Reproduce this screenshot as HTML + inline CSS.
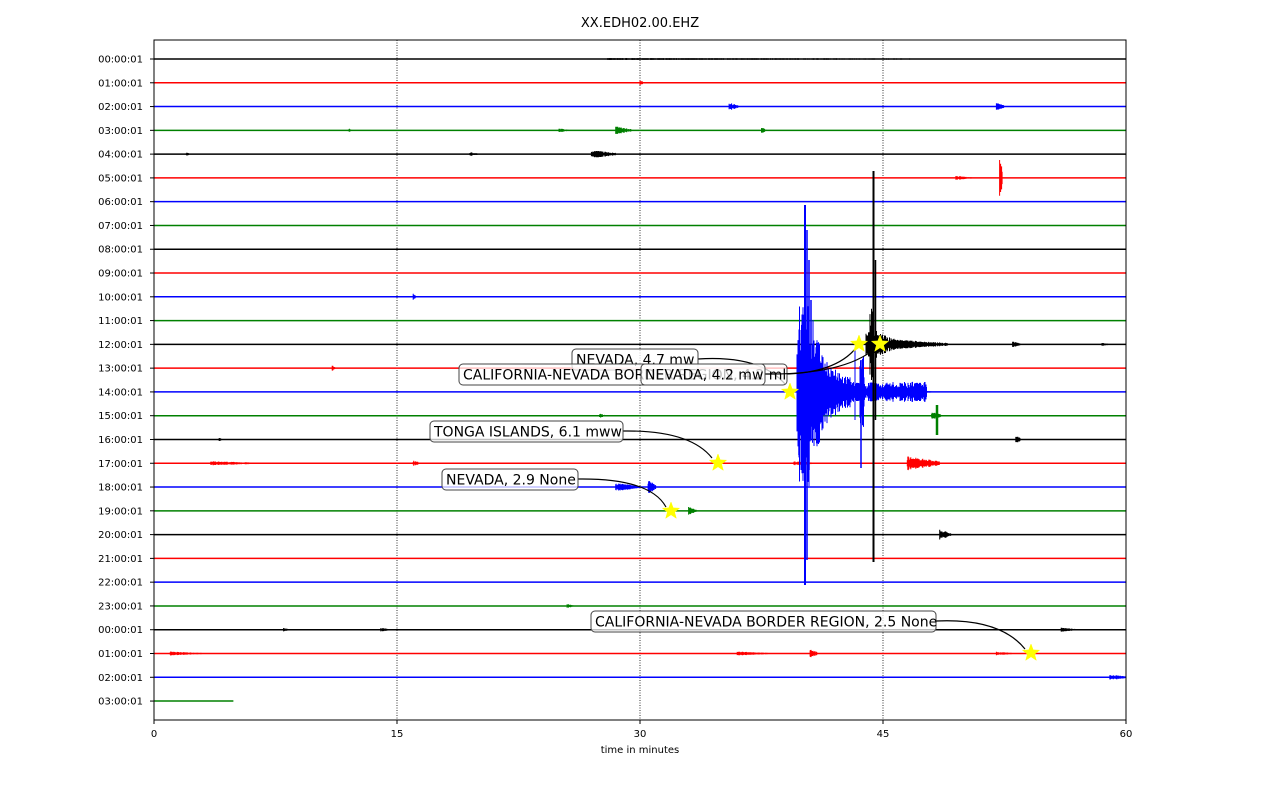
<!DOCTYPE html>
<html><head><meta charset="utf-8"><style>
html,body{margin:0;padding:0;background:#fff;width:1280px;height:800px;overflow:hidden}
svg text{font-family:"DejaVu Sans","Liberation Sans",sans-serif}
</style></head><body>
<svg id="s" width="1280" height="800" xmlns="http://www.w3.org/2000/svg">
<rect width="1280" height="800" fill="#fff"/>
<text x="640" y="27" font-size="13" text-anchor="middle">XX.EDH02.00.EHZ</text>
<g stroke="#000" stroke-width="0.8" stroke-dasharray="1,1.5">
<line x1="397" y1="40" x2="397" y2="720"/><line x1="640" y1="40" x2="640" y2="720"/><line x1="883" y1="40" x2="883" y2="720"/>
</g>
<g id="traces"></g>
<g id="ann"></g>
<rect x="154" y="40" width="972" height="680" fill="none" stroke="#000" stroke-width="1"/>
<g id="ticks" font-size="10"></g>
<text x="640" y="753" font-size="10" text-anchor="middle">time in minutes</text>
</svg>
<script>
var NS="http://www.w3.org/2000/svg";
function el(t,a,p){var e=document.createElementNS(NS,t);for(var k in a)e.setAttribute(k,a[k]);(p||document.getElementById('s')).appendChild(e);return e;}
var cols=["#000","#f00","#00f","#008000"];
var labs=["00","01","02","03","04","05","06","07","08","09","10","11","12","13","14","15","16","17","18","19","20","21","22","23","00","01","02","03"];
var X0=154,PX=16.2,Y0=59,D=23.78;
function X(m){return X0+m*PX;}
var bursts=[[0,28,30,1],[2,35.5,0.6,4],[2,52,0.5,4],[3,28.5,1,4],[3,25,0.6,2],[3,37.5,0.3,3],[3,12,0.2,2],[4,27,1.5,4],[4,19.5,0.5,2],[4,2,0.2,2],[5,49.5,1,2],[5,52.2,0.15,22],[12,45.5,3.5,5],[12,53,0.5,3],[12,58.5,0.4,2],[15,27.5,0.5,2],[15,48,0.6,4],[16,53.2,0.3,4],[16,4,0.2,2],[17,46.5,2,7],[17,3.5,3,2],[17,16,0.4,3],[17,39.5,1.5,2],[18,28.5,1.5,4],[18,30.5,0.5,7],[19,33,0.5,4],[20,48.5,0.7,5],[23,25.5,0.4,2],[24,14,0.6,2],[24,56,1,2],[24,8,0.3,2],[25,40.5,0.5,4],[25,1,2,2],[25,52,1,2],[25,36,2,2],[26,59,1,3],[1,30,0.1,3],[10,16,0.1,3],[13,11,0.2,3]];
var g=document.getElementById('traces');
for(var i=0;i<28;i++){
 var y=Y0+i*D,c=cols[i%4],end=(i==27)?4.9:60;
 el('line',{x1:X0,y1:y,x2:X(end),y2:y,stroke:c,'stroke-width':1.5},g);
 var d="";
 bursts.forEach(function(b){ if(b[0]!=i)return; var n=Math.max(6,Math.round(b[2]*PX*2));
  for(var k=0;k<n;k++){var xx=X(b[1])+k/2;var a=b[3]*(1-k/n*0.7)*(0.4+Math.random()*0.6);d+="M"+xx.toFixed(1)+" "+(y-a).toFixed(1)+"V"+(y+a).toFixed(1);} });
 if(d)el('path',{d:d,stroke:c,'stroke-width':1,fill:'none'},g);
 var t=el('text',{x:143,y:y+3.5,'font-size':10,'text-anchor':'end'},document.getElementById('ticks'));t.textContent=labs[i]+":00:01";
 el('line',{x1:150,y1:y,x2:154,y2:y,stroke:'#000'},document.getElementById('ticks'));
}
var yb=Y0+14*D,d="";
for(var k=0;k<110;k++){var xx=797+k/2;var a=(k<50?(k<25?90:60):30*Math.exp(-(k-50)/30)+10)*(0.3+Math.random()*0.7);d+="M"+xx+" "+(yb-a)+"V"+(yb+a*1.05);}
for(var k=0;k<150;k++){var xx=852+k/2;var a=(k>15&&k<25?45:10)*(0.3+Math.random()*0.7);d+="M"+xx+" "+(yb-a)+"V"+(yb+a);}
for(var k=0;k<100;k++){var xx=890+k/2;var a=4*(1-k/100)*(0.3+Math.random()*0.7);d+="M"+xx+" "+(yb-a)+"V"+(yb+a);}
el('path',{d:d,stroke:'#00f','stroke-width':1,fill:'none'},g);
[[805,205,585,2],[807,230,560,1.5],[809,260,470,1.5],[811,300,440,1.5],[813,320,430,1],[799,342,455,1.5],[801,330,470,1],[861,360,468,1.5],[855,350,420,1]].forEach(function(s){el('line',{x1:s[0],y1:s[1],x2:s[0],y2:s[2],stroke:'#00f','stroke-width':s[3]},g);});
var yk=Y0+12*D;d="";
for(var k=0;k<110;k++){var xx=866+k/2;var a=(k<14?(k<8?15:40):16*Math.exp(-(k-14)/25)+3)*(0.4+Math.random()*0.6);d+="M"+xx+" "+(yk-a)+"V"+(yk+a);}
el('path',{d:d,stroke:'#000','stroke-width':1,fill:'none'},g);
el('line',{x1:873.5,y1:171,x2:873.5,y2:562,stroke:'#000','stroke-width':2},g);
el('line',{x1:875.5,y1:260,x2:875.5,y2:420,stroke:'#000','stroke-width':1.5},g);
el('line',{x1:937,y1:405,x2:937,y2:435,stroke:'#008000','stroke-width':2.5},g);
[[0,"0"],[15,"15"],[30,"30"],[45,"45"],[60,"60"]].forEach(function(t){var x=X(t[0]);el('line',{x1:x,y1:720,x2:x,y2:724,stroke:'#000'},document.getElementById('ticks'));var e=el('text',{x:x,y:737,'font-size':10,'text-anchor':'middle'},document.getElementById('ticks'));e.textContent=t[1];});
var A=document.getElementById('ann');
function star(cx,cy){var p="";for(var k=0;k<10;k++){var rr=k%2?3.8:9,an=-Math.PI/2+k*Math.PI/5;p+=(k?"L":"M")+(cx+rr*Math.cos(an)).toFixed(1)+" "+(cy+rr*Math.sin(an)).toFixed(1);}el('path',{d:p+"Z",fill:'#ff0',stroke:'#ff0','stroke-width':0.5},A);}
function box(x,y,w,txt,tx,ty,cx){el('path',{d:"M"+(x+w)+" "+(y+10)+" Q"+cx[0]+" "+cx[1]+" "+tx+" "+ty,stroke:'#000','stroke-width':1.2,fill:'none'},A);
 el('rect',{x:x,y:y,width:w,height:21,rx:4,fill:'#fff','fill-opacity':0.75,stroke:'#444','stroke-width':1},A);
 var t=el('text',{x:x+4,y:y+15.5,'font-size':14},A);t.textContent=txt;}
box(572,349,126,"NEVADA, 4.7 mw",785,384,[760,355]);
box(459,364,328,"CALIFORNIA-NEVADA BORDER REGION, 4.2 ml",859,344,[840,372]);
box(641,364,124,"NEVADA, 4.2 mw",880,344,[850,375]);
box(430,421,193,"TONGA ISLANDS, 6.1 mww",712,458,[690,430]);
box(442,469,136,"NEVADA, 2.9 None",666,507,[650,478]);
box(591,611,345,"CALIFORNIA-NEVADA BORDER REGION, 2.5 None",1025,649,[1000,618]);
[[859,344],[880,344],[790,392],[718,463],[671,511],[1031,653]].forEach(function(s){star(s[0],s[1]);});
</script>
</body></html>
